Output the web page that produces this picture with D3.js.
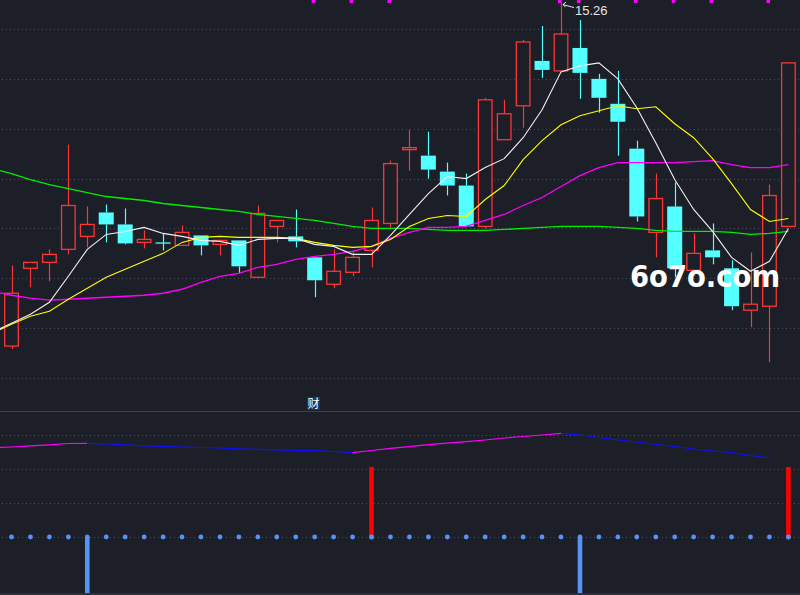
<!DOCTYPE html>
<html>
<head>
<meta charset="utf-8">
<script src="https://cdn.jsdelivr.net/npm/d3@7"></script>
<style>
  html, body { margin: 0; padding: 0; background: #1c1f27; }
  svg { display: block; }
</style>
</head>
<body>
<svg width="800" height="595"></svg>
<script>
// candles, day 1..42
const days  = d3.range(1, 43);
const open  = [11.82,12.60,12.66,12.79,12.92,13.16,13.04,12.86,12.86,12.83,12.93,12.84,12.88,12.51,13.02,12.92,12.71,12.44,12.56,12.78,13.05,
               13.79,13.73,13.57,13.43,13.02,13.89,14.23,14.68,14.58,14.81,14.50,14.25,13.80,12.96,13.22,12.58,12.78,12.60,12.18,12.22,13.02];
const high  = [12.63,12.66,12.79,13.84,13.22,13.24,13.20,12.98,12.95,13.03,12.93,12.88,12.88,13.23,13.08,13.19,12.71,12.79,12.78,13.21,13.68,
               13.99,13.97,13.66,13.55,14.31,14.29,14.89,15.03,15.26,15.09,14.55,14.58,13.88,13.55,13.46,12.95,13.05,12.68,12.76,13.44,14.66];
const low   = [11.79,12.41,12.47,12.74,12.81,12.86,12.84,12.80,12.78,12.83,12.73,12.73,12.55,12.51,12.86,12.81,12.31,12.40,12.52,12.61,13.01,
               13.58,13.50,13.33,13.02,13.00,13.89,14.01,14.51,14.58,14.30,14.16,13.73,13.07,12.71,12.51,12.52,12.64,12.18,12.01,11.66,13.02];
const close = [12.35,12.66,12.74,13.23,13.04,13.04,12.85,12.89,12.86,12.96,12.83,12.88,12.62,13.15,13.08,12.87,12.48,12.57,12.71,13.08,13.65,
               13.81,13.59,13.43,13.02,14.29,14.15,14.87,14.59,14.95,14.56,14.31,14.07,13.12,13.30,12.60,12.75,12.71,12.22,12.24,13.33,14.66];

// moving averages, day 0..42 (day 0 is the day before the first visible candle)
const maDays = d3.range(0, 43);
const ma5  = [11.96,12.05,12.14,12.26,12.52,12.79,12.94,12.97,13.01,12.95,12.92,12.88,12.87,12.83,12.89,12.90,12.90,12.84,12.82,12.74,12.74,
              12.93,13.14,13.35,13.52,13.50,13.61,13.70,13.91,14.19,14.57,14.63,14.66,14.50,14.21,13.86,13.49,13.19,12.97,12.71,12.57,12.67,13.00];
const ma10 = [11.95,12.04,12.12,12.17,12.29,12.40,12.51,12.59,12.67,12.75,12.86,12.91,12.92,12.91,12.91,12.91,12.90,12.86,12.83,12.81,12.82,
              12.89,13.02,13.10,13.13,13.12,13.29,13.43,13.69,13.88,14.04,14.13,14.18,14.23,14.20,14.22,14.05,13.91,13.70,13.45,13.19,13.07,13.10];
const ma20 = [12.37,12.33,12.30,12.28,12.29,12.30,12.31,12.32,12.33,12.35,12.39,12.46,12.52,12.55,12.61,12.64,12.69,12.72,12.74,12.77,12.82,
              12.90,12.96,13.01,13.01,13.02,13.08,13.14,13.23,13.31,13.42,13.53,13.61,13.66,13.66,13.66,13.66,13.67,13.68,13.64,13.61,13.61,13.64];
const ma60 = [13.60,13.55,13.49,13.44,13.40,13.36,13.32,13.30,13.28,13.25,13.23,13.21,13.19,13.17,13.14,13.12,13.10,13.08,13.05,13.02,13.00,
              13.00,13.00,12.99,12.98,12.98,12.98,12.99,13.00,13.01,13.02,13.02,13.02,13.01,13.00,12.98,12.97,12.97,12.97,12.96,12.94,12.95,12.97];

// top markers (days)
const markDays = [17, 19, 21, 30, 31, 34, 36, 38, 41];

// lower panel: trend line (day 0..42) and signal bars (day 1..42)
const trend = [2.629,2.647,2.682,2.712,2.750,2.756,2.735,2.712,2.682,2.662,2.647,2.632,2.618,2.594,2.579,2.565,2.550,2.538,2.515,2.479,2.544,
               2.609,2.656,2.715,2.759,2.803,2.853,2.912,2.956,3.000,3.050,3.000,2.926,2.853,2.794,2.721,2.662,2.588,2.529,2.485,2.397,2.324,null];
const signal = [0,0,0,0,-1.65,0,0,0,0,0,0,0,0,0,0,0,0,0,0,2.06,0,
                0,0,0,0,0,0,0,0,0,-1.65,0,0,0,0,0,0,0,0,0,0,2.06];

const svg = d3.select('svg');
const width = +svg.attr('width');

const UP = '#ff3434', DOWN = '#54ffff', BG = '#1c1f27';

const x = d3.scaleLinear().domain([1, 42]).range([11.5, 788.4]);
const y = d3.scaleLinear().domain([15, 11.5]).range([29, 378]);
const yl = d3.scaleLinear().domain([0, 3]).range([537, 435]);

// grids
const grid = svg.append('g').attr('stroke', '#4a4f5b').attr('stroke-dasharray', '1,3');
grid.selectAll('.gu').data(y.ticks(8)).enter().append('line')
    .attr('x1', 2).attr('x2', width).attr('y1', d => Math.round(y(d)) + 0.5).attr('y2', d => Math.round(y(d)) + 0.5);
grid.selectAll('.gl').data(yl.ticks(3)).enter().append('line')
    .attr('x1', 2).attr('x2', width).attr('y1', d => Math.round(yl(d)) + 0.5).attr('y2', d => Math.round(yl(d)) + 0.5);

// panel separators
svg.append('line').attr('x1', 0).attr('x2', width).attr('y1', 411.5).attr('y2', 411.5)
    .attr('stroke', '#3c414c').attr('stroke-width', 1);
svg.append('line').attr('x1', 0).attr('x2', width).attr('y1', 594).attr('y2', 594)
    .attr('stroke', '#3c414c').attr('stroke-width', 1);

// candles
const data = days.map((d, i) => ({
    d, o: open[i], h: high[i], l: low[i], c: close[i],
    up: close[i] > open[i] || (close[i] === open[i] && i > 0 && close[i] >= close[i - 1])
}));

const candles = svg.append('g').selectAll('g').data(data).enter().append('g');

candles.append('line')
    .attr('x1', d => Math.round(x(d.d)) + 0.5).attr('x2', d => Math.round(x(d.d)) + 0.5)
    .attr('y1', d => y(d.h)).attr('y2', d => d.up ? y(d.c) : y(d.o))
    .attr('stroke', d => d.up ? UP : DOWN).attr('stroke-width', 1.2);
candles.append('line')
    .attr('x1', d => Math.round(x(d.d)) + 0.5).attr('x2', d => Math.round(x(d.d)) + 0.5)
    .attr('y1', d => d.up ? y(d.o) : y(d.c)).attr('y2', d => y(d.l))
    .attr('stroke', d => d.up ? UP : DOWN).attr('stroke-width', 1.2);
candles.append('rect')
    .attr('x', d => d.up ? x(d.d) - 6.8 : x(d.d) - 7.5)
    .attr('width', d => d.up ? 13.6 : 15)
    .attr('y', d => y(Math.max(d.o, d.c)))
    .attr('height', d => Math.max(y(Math.min(d.o, d.c)) - y(Math.max(d.o, d.c)), d.up ? 1 : 1.3))
    .attr('fill', d => d.up ? BG : DOWN)
    .attr('stroke', d => d.up ? UP : 'none')
    .attr('stroke-width', 1.3);

// moving averages
const maLine = d3.line().x((d, i) => x(maDays[i])).y(d => y(d));
[[ma60, '#00ee00', 1.3], [ma20, '#ff00ff', 1.3], [ma10, '#ffff00', 1.1], [ma5, '#f2f2f2', 1.1]].forEach(([s, col, w]) => {
    svg.append('path').datum(s).attr('d', maLine)
        .attr('fill', 'none').attr('stroke', col).attr('stroke-width', w);
});

// top markers
svg.append('g').selectAll('rect').data(markDays).enter().append('rect')
    .attr('x', d => x(d) - 3).attr('y', 0).attr('width', 3.5).attr('height', 3)
    .attr('fill', '#ff00ff');

// high label
const hiIdx = d3.maxIndex(high);
const hx = x(days[hiIdx]), hy = y(high[hiIdx]);
const arrow = svg.append('g').attr('stroke', '#e6e6e6').attr('stroke-width', 1).attr('fill', 'none');
arrow.append('path').attr('d', `M${hx + 2},${hy + 1.5} L${hx + 13},${hy + 4.5}`);
arrow.append('path').attr('d', `M${hx + 5},${hy - 1} L${hx + 2},${hy + 1.5} L${hx + 4.5},${hy + 4}`);
svg.append('text').attr('x', hx + 14).attr('y', hy + 12)
    .attr('font-family', 'Liberation Sans, Arial, sans-serif').attr('font-size', 13)
    .attr('fill', '#e6e6e6').text(high[hiIdx].toFixed(2));

// watermark
svg.append('text').attr('x', 630).attr('y', 287)
    .attr('font-family', 'DejaVu Sans, sans-serif').attr('font-weight', 'bold').attr('font-size', 31)
    .attr('textLength', 150).attr('lengthAdjust', 'spacingAndGlyphs')
    .attr('fill', '#ffffff').text('6o7o.com');

// lower panel label
svg.append('rect').attr('x', 307).attr('y', 397).attr('width', 13).attr('height', 13).attr('fill', '#0b3b6d');
svg.append('text').attr('x', 313.5).attr('y', 408).attr('text-anchor', 'middle')
    .attr('font-family', 'Noto Sans CJK SC, sans-serif').attr('font-size', 12)
    .attr('fill', '#ffffff').text('财');

// lower trend line, coloured by direction
const seg = d3.range(1, trend.length).filter(i => trend[i] != null && trend[i - 1] != null);
svg.append('g').selectAll('line').data(seg).enter().append('line')
    .attr('x1', i => x(maDays[i - 1])).attr('x2', i => x(maDays[i]))
    .attr('y1', i => yl(trend[i - 1])).attr('y2', i => yl(trend[i]))
    .attr('stroke', i => trend[i] >= trend[i - 1] ? '#ff00ff' : '#1010ff')
    .attr('stroke-width', 1.2);

// dots + signal bars
svg.append('g').selectAll('circle').data(days).enter().append('circle')
    .attr('cx', d => x(d)).attr('cy', yl(0)).attr('r', 2.4).attr('fill', '#5593f7');
svg.append('g').selectAll('rect').data(days.filter((d, i) => signal[i] !== 0)).enter().append('rect')
    .attr('x', d => x(d) - 2.3).attr('width', 4.6)
    .attr('y', d => Math.min(yl(signal[d - 1]), yl(0)))
    .attr('height', d => Math.abs(yl(signal[d - 1]) - yl(0)))
    .attr('fill', d => signal[d - 1] > 0 ? '#ff0000' : '#5593f7');
svg.append('g').selectAll('circle').data(days.filter((d, i) => signal[i] > 0)).enter().append('circle')
    .attr('cx', d => x(d)).attr('cy', yl(0)).attr('r', 2.4).attr('fill', '#5593f7');
</script>
</body>
</html>
